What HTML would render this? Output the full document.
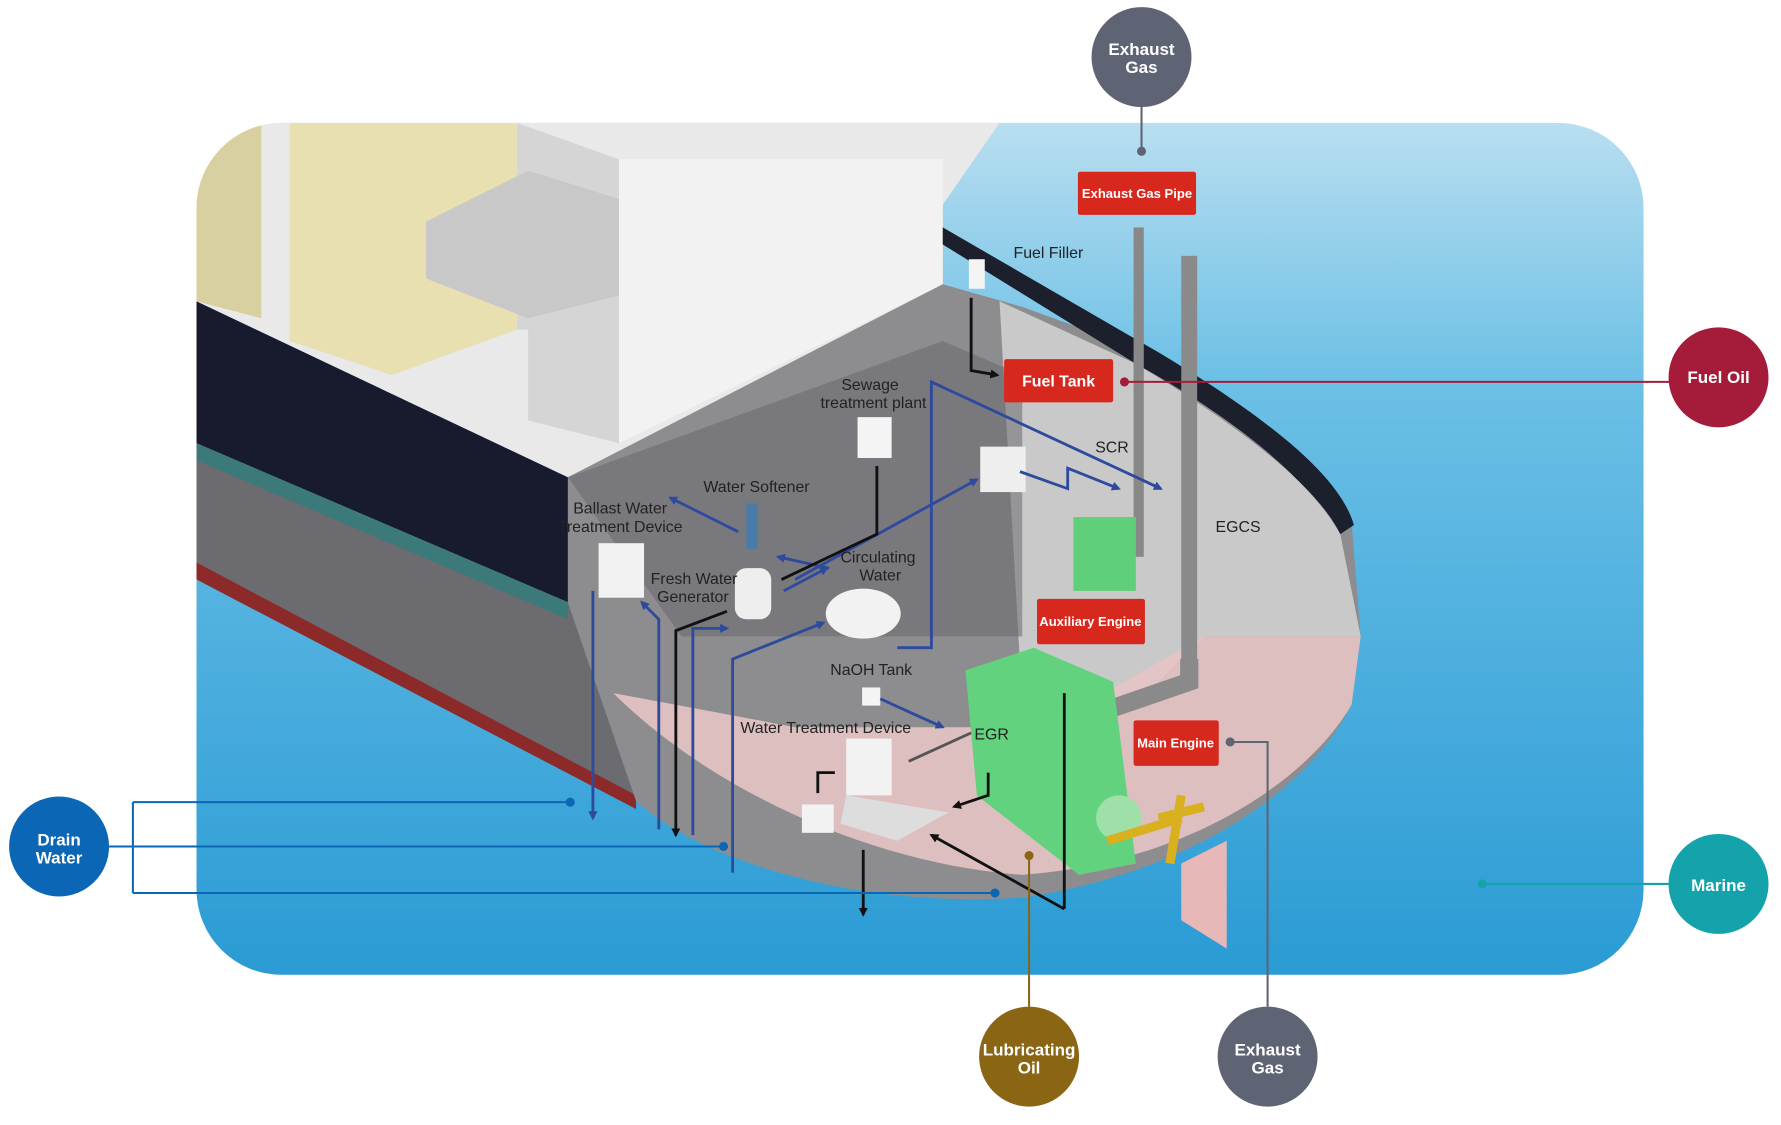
<!DOCTYPE html>
<html><head><meta charset="utf-8"><style>
html,body{margin:0;padding:0;background:#fff;width:1781px;height:1125px;overflow:hidden}
svg{display:block}
text{font-family:"Liberation Sans",sans-serif}
</style></head><body>
<svg width="1781" height="1125" viewBox="0 0 1568 990" xmlns="http://www.w3.org/2000/svg">
<defs>
<linearGradient id="sea" x1="0" y1="0" x2="0" y2="1">
<stop offset="0" stop-color="#b9def0"/><stop offset="0.3" stop-color="#6cc0e6"/><stop offset="1" stop-color="#2a9bd4"/></linearGradient>
<clipPath id="cp"><rect x="173" y="108" width="1274" height="750" rx="75"/></clipPath>
<marker id="ab" markerWidth="8" markerHeight="8" refX="6" refY="4" orient="auto" markerUnits="userSpaceOnUse"><path d="M0,0 L8,4 L0,8 Z" fill="#2e4a9c"/></marker>
<marker id="ak" markerWidth="8" markerHeight="8" refX="6" refY="4" orient="auto" markerUnits="userSpaceOnUse"><path d="M0,0 L8,4 L0,8 Z" fill="#111"/></marker>
</defs>
<rect x="173" y="108" width="1274" height="750" rx="75" fill="url(#sea)"/>
<g clip-path="url(#cp)">
<polygon points="173,265 500,420 500,530 173,390" fill="#181b2e"/>
<polygon points="173,390 500,530 560,705 173,500" fill="#6b6b70"/>
<polygon points="173,390 500,530 500,545 173,405" fill="#3c7a7a"/>
<polygon points="173,495 560,700 560,712 173,510" fill="#8c2a2a"/>
<polygon points="173,108 880,108 830,180 830,250 500,420 173,265" fill="#e9e9e9"/>
<polygon points="173,108 230,108 230,280 173,265" fill="#d9d0a2"/>
<polygon points="255,108 455,108 455,290 345,330 255,300" fill="#e9e0b2"/>
<polygon points="455,108 545,140 545,390 465,370 465,290 455,290" fill="#d5d5d5"/>
<polygon points="375,195 465,150 545,175 545,260 465,280 375,245" fill="#c8c8c8"/>
<polygon points="545,140 830,140 830,250 545,390" fill="#f2f2f2"/>
<path d="M500,420 L830,250 L900,270 L1010,310 L1130,390 L1190,460 L1198,560 L1190,620 C1150,700 1040,770 900,790 C760,800 620,760 560,705 L500,530 Z" fill="#8d8d90"/>
<path d="M830,200 L1020,310 C1120,370 1180,420 1192,462 L1180,470 C1150,420 1090,370 1000,320 L830,215 Z" fill="#1c1f2c"/>
<path d="M880,265 L1000,320 C1100,380 1160,430 1180,470 L1198,560 L1060,560 L1000,620 L900,620 Z" fill="#d8d8d8" opacity="0.8"/>
<path d="M540,610 C620,690 760,760 900,770 C1040,760 1150,690 1190,620 L1198,560 L1060,560 L920,640 L700,640 Z" fill="#e6c4c4" opacity="0.9"/>
<path d="M500,420 L830,300 L900,330 L900,560 L600,560 Z" fill="#6a6a6e" opacity="0.55"/>
<rect x="998" y="200" width="9" height="290" fill="#888"/>
<rect x="1040" y="225" width="14" height="360" fill="#8a8a8a"/>
<path d="M1047,580 L1047,600 L960,630" stroke="#8a8a8a" stroke-width="16" fill="none"/>
<rect x="945" y="455" width="55" height="65" fill="#5fcf7a"/>
<path d="M850,590 L910,570 L980,600 L1000,760 L950,770 L860,700 Z" fill="#62d27e"/>
<circle cx="985" cy="720" r="20" fill="#9ee0a8"/>
<path d="M975,740 L1040,720 M1020,720 L1060,710 M1030,760 L1040,700" stroke="#d8b020" stroke-width="8"/>
<polygon points="1040,760 1080,740 1080,835 1040,810" fill="#e8b8b8"/>
<rect x="863" y="393" width="40" height="40" fill="#eee"/>
<rect x="755" y="367" width="30" height="36" fill="#f4f4f4"/>
<rect x="527" y="478" width="40" height="48" fill="#f2f2f2"/>
<rect x="647" y="500" width="32" height="45" rx="10" fill="#eee"/>
<ellipse cx="760" cy="540" rx="33" ry="22" fill="#f2f2f2"/>
<rect x="657" y="443" width="10" height="40" fill="#4a7aa8"/>
<rect x="745" y="650" width="40" height="50" fill="#f2f2f2"/>
<polygon points="745,700 835,715 790,740 740,725" fill="#ddd"/>
<rect x="706" y="708" width="28" height="25" fill="#f2f2f2"/>
<rect x="759" y="605" width="16" height="16" fill="#f4f4f4"/>
<rect x="853" y="228" width="14" height="26" fill="#f4f4f4"/>
<g stroke="#2e4a9c" stroke-width="2.5" fill="none" marker-end="url(#ab)">
<path d="M522,520 V720"/><path d="M580,730 V545 L565,530"/><path d="M610,735 V553 L640,553"/><path d="M645,768 V580 L725,548"/>
<path d="M650,468 L590,438"/><path d="M730,500 L685,490"/><path d="M690,520 L728,500"/>
<path d="M700,510 L860,422"/><path d="M790,570 L820,570 V336 L1022,430"/>
<path d="M898,415 L940,430 L940,412 L985,430"/><path d="M775,615 L830,640"/>
</g>
<g stroke="#111" stroke-width="2.5" fill="none">
<path d="M855,262 V326 L878,330" marker-end="url(#ak)"/><path d="M772,410 V470 L688,510"/><path d="M640,538 L595,555 V735" marker-end="url(#ak)"/>
<path d="M937,800 L820,735" marker-end="url(#ak)"/><path d="M937,800 V610"/><path d="M760,748 V805" marker-end="url(#ak)"/><path d="M870,680 L870,700 L840,710" marker-end="url(#ak)"/><path d="M720,698 V680 L735,680"/>
</g>
<g stroke="#555" stroke-width="2.5" fill="none"><path d="M800,670 L855,645"/></g>
</g>
<g font-size="14" fill="#222" text-anchor="middle">
<text x="923" y="227">Fuel Filler</text>
<text x="766" y="343">Sewage</text><text x="769" y="359">treatment plant</text>
<text x="979" y="398">SCR</text>
<text x="666" y="433">Water Softener</text>
<text x="546" y="452">Ballast Water</text><text x="546" y="468">Treatment Device</text>
<text x="773" y="495">Circulating</text><text x="775" y="511">Water</text>
<text x="611" y="514">Fresh Water</text><text x="610" y="530">Generator</text>
<text x="1090" y="468">EGCS</text>
<text x="767" y="594">NaOH Tank</text>
<text x="727" y="645">Water Treatment Device</text>
<text x="873" y="651">EGR</text>
</g>
<g fill="#d7281e"><rect x="949" y="151" width="104" height="38" rx="2"/><rect x="884" y="316" width="96" height="38" rx="2"/><rect x="913" y="527" width="95" height="40" rx="2"/><rect x="998" y="634" width="75" height="40" rx="2"/></g>
<g fill="#fff" font-weight="bold" text-anchor="middle">
<text x="1001" y="174" font-size="11.5">Exhaust Gas Pipe</text>
<text x="932" y="340" font-size="14">Fuel Tank</text>
<text x="960" y="551" font-size="11.5">Auxiliary Engine</text>
<text x="1035" y="658" font-size="11.5">Main Engine</text>
</g>
<g fill="none" stroke-width="1.8">
<path d="M1005,94 V133" stroke="#5f6475"/>
<path d="M990,336 H1470" stroke="#a51c3a"/>
<path d="M1305,778 H1470" stroke="#14a3ab"/>
<path d="M1083,653 H1116 V886" stroke="#5f6475"/>
<path d="M906,753 V886" stroke="#8a6514"/>
<path d="M96,745 H637 M117,706 H502 M117,786 H876 M117,706 V786" stroke="#0b66b5"/>
</g>
<circle cx="1005" cy="133" r="4" fill="#5f6475"/><circle cx="990" cy="336" r="4" fill="#a51c3a"/>
<circle cx="1305" cy="778" r="4" fill="#14a3ab"/><circle cx="1083" cy="653" r="4" fill="#5f6475"/>
<circle cx="906" cy="753" r="4" fill="#8a6514"/>
<circle cx="502" cy="706" r="4" fill="#0b66b5"/><circle cx="637" cy="745" r="4" fill="#0b66b5"/><circle cx="876" cy="786" r="4" fill="#0b66b5"/>
<circle cx="1005" cy="50" r="44" fill="#5f6475"/>
<circle cx="1513" cy="332" r="44" fill="#a51c3a"/>
<circle cx="1513" cy="778" r="44" fill="#14a3ab"/>
<circle cx="1116" cy="930" r="44" fill="#5f6475"/>
<circle cx="906" cy="930" r="44" fill="#8a6514"/>
<circle cx="52" cy="745" r="44" fill="#0b66b5"/>
<g fill="#fff" font-weight="bold" font-size="15" text-anchor="middle">
<text x="1005" y="48">Exhaust</text><text x="1005" y="64">Gas</text>
<text x="1513" y="337">Fuel Oil</text>
<text x="1513" y="784">Marine</text>
<text x="1116" y="929">Exhaust</text><text x="1116" y="945">Gas</text>
<text x="906" y="929">Lubricating</text><text x="906" y="945">Oil</text>
<text x="52" y="744">Drain</text><text x="52" y="760">Water</text>
</g>
</svg>
</body></html>
